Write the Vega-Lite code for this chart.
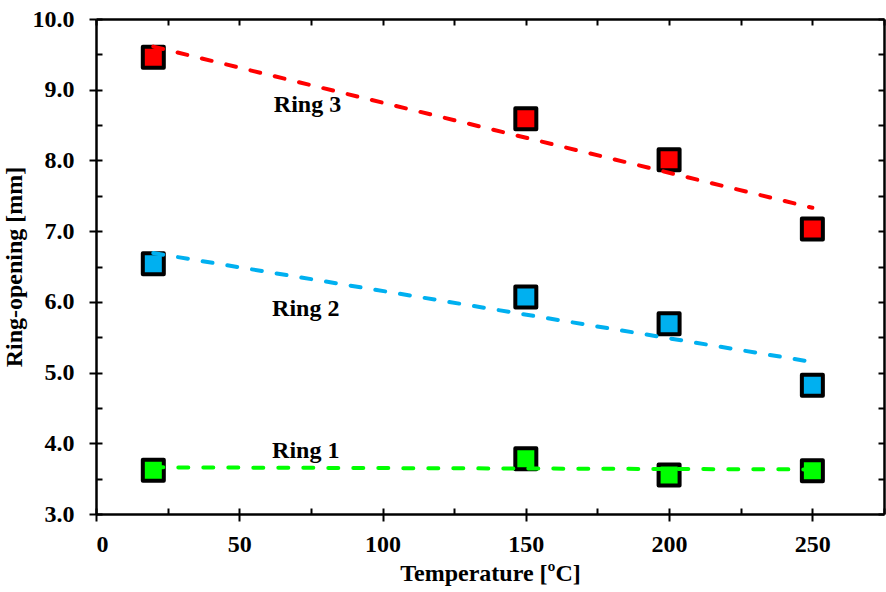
{
  "$schema": "https://vega.github.io/schema/vega-lite/v6.json",
  "width": 788,
  "height": 495,
  "autosize": {"type": "none"},
  "padding": {"left": 96, "top": 19, "right": 2, "bottom": 78},
  "background": "white",
  "config": {
    "view": {"stroke": null},
    "font": "Liberation Serif",
    "axis": {
      "labelFont": "Liberation Serif", "labelFontWeight": "bold", "labelFontSize": 24, "labelColor": "black",
      "titleFont": "Liberation Serif", "titleFontWeight": "bold", "titleFontSize": 24, "titleColor": "black",
      "domainColor": "black", "domainWidth": 2.5, "tickColor": "black", "tickWidth": 2, "grid": false
    }
  },
  "datasets": {
    "pts": [
      {"ring": "Ring 3", "t": 20, "v": 9.46},
      {"ring": "Ring 3", "t": 150, "v": 8.59},
      {"ring": "Ring 3", "t": 200, "v": 8.01},
      {"ring": "Ring 3", "t": 250, "v": 7.03},
      {"ring": "Ring 2", "t": 20, "v": 6.54},
      {"ring": "Ring 2", "t": 150, "v": 6.07},
      {"ring": "Ring 2", "t": 200, "v": 5.69},
      {"ring": "Ring 2", "t": 250, "v": 4.82},
      {"ring": "Ring 1", "t": 20, "v": 3.62},
      {"ring": "Ring 1", "t": 150, "v": 3.78},
      {"ring": "Ring 1", "t": 200, "v": 3.55},
      {"ring": "Ring 1", "t": 250, "v": 3.61}
    ],
    "fits": [
      {"ring": "Ring 3", "t": 20, "v": 9.61},
      {"ring": "Ring 3", "t": 250, "v": 7.33},
      {"ring": "Ring 2", "t": 20, "v": 6.69},
      {"ring": "Ring 2", "t": 250, "v": 5.15},
      {"ring": "Ring 1", "t": 20, "v": 3.66},
      {"ring": "Ring 1", "t": 250, "v": 3.63}
    ],
    "labels": [
      {"label": "Ring 3", "t": 73.8, "v": 8.685},
      {"label": "Ring 2", "t": 73.2, "v": 5.80},
      {"label": "Ring 1", "t": 73.2, "v": 3.79}
    ]
  },
  "resolve": {"axis": {"x": "independent", "y": "independent"}},
  "layer": [
    {
      "data": {"name": "pts"},
      "mark": {"type": "point", "shape": "square", "filled": true, "size": 441, "stroke": "black", "strokeWidth": 4, "strokeJoin": "round", "opacity": 1},
      "encoding": {
        "x": {"field": "t", "type": "quantitative", "scale": {"domain": [0, 275], "nice": false, "zero": false},
          "axis": {"orient": "bottom", "values": [0, 25, 50, 75, 100, 125, 150, 175, 200, 225, 250, 275], "tickSize": -6, "labels": false, "domain": false, "title": null}},
        "y": {"field": "v", "type": "quantitative", "scale": {"domain": [3, 10], "nice": false, "zero": false},
          "axis": {"orient": "left", "values": [3, 3.5, 4, 4.5, 5, 5.5, 6, 6.5, 7, 7.5, 8, 8.5, 9, 9.5, 10], "tickSize": -6, "labels": false, "domain": false, "title": null}},
        "fill": {"field": "ring", "type": "nominal", "scale": {"domain": ["Ring 1", "Ring 2", "Ring 3"], "range": ["#00ff00", "#00b0f0", "#ff0000"]}, "legend": null}
      }
    },
    {
      "data": {"name": "fits"},
      "mark": {"type": "line", "strokeWidth": 4, "strokeDash": [10, 15], "strokeCap": "round"},
      "encoding": {
        "x": {"field": "t", "type": "quantitative",
          "axis": {"orient": "bottom", "values": [0, 50, 100, 150, 200, 250], "tickSize": 7, "labelPadding": 11, "title": "Temperature [ºC]", "titlePadding": 5}},
        "y": {"field": "v", "type": "quantitative",
          "axis": {"orient": "left", "values": [3, 4, 5, 6, 7, 8, 9, 10], "format": ".1f", "tickSize": 7, "labelPadding": 15, "title": "Ring-opening [mm]", "titlePadding": 6}},
        "color": {"field": "ring", "type": "nominal", "scale": {"domain": ["Ring 1", "Ring 2", "Ring 3"], "range": ["#00ff00", "#00b0f0", "#ff0000"]}, "legend": null},
        "detail": {"field": "ring"}
      }
    },
    {
      "data": {"name": "labels"},
      "mark": {"type": "text", "font": "Liberation Serif", "fontWeight": "bold", "fontSize": 24, "color": "black", "align": "center", "baseline": "alphabetic"},
      "encoding": {
        "x": {"field": "t", "type": "quantitative",
          "axis": {"orient": "top", "values": [0, 25, 50, 75, 100, 125, 150, 175, 200, 225, 250, 275], "tickSize": -6, "labels": false, "title": null}},
        "y": {"field": "v", "type": "quantitative",
          "axis": {"orient": "right", "values": [3, 3.5, 4, 4.5, 5, 5.5, 6, 6.5, 7, 7.5, 8, 8.5, 9, 9.5, 10], "tickSize": -6, "labels": false, "title": null}},
        "text": {"field": "label"}
      }
    }
  ]
}
